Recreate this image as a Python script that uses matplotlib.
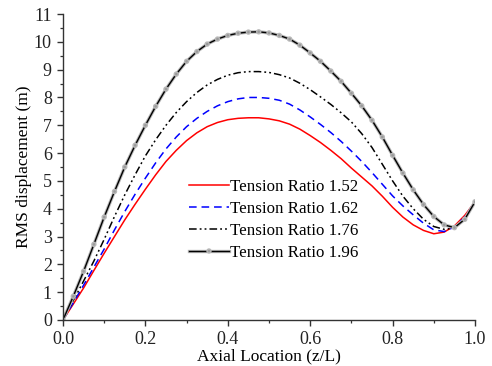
import matplotlib
matplotlib.use("Agg")
import matplotlib.pyplot as plt
import matplotlib.patheffects as pe
from matplotlib.ticker import MultipleLocator, FormatStrFormatter

plt.rcParams['font.family'] = ['Liberation Serif', 'DejaVu Serif']

# Axial location along the riser (z/L)
z = [0.0, 0.025, 0.05, 0.075, 0.10, 0.125, 0.15, 0.175, 0.20, 0.225,
     0.25, 0.275, 0.30, 0.325, 0.35, 0.375, 0.40, 0.425, 0.45, 0.475,
     0.50, 0.525, 0.55, 0.575, 0.60, 0.625, 0.65, 0.675, 0.70, 0.725,
     0.75, 0.775, 0.80, 0.825, 0.85, 0.875, 0.90, 0.925, 0.95, 0.975, 1.0]

# RMS displacement (m) for each tension ratio
rms_152 = [0.0, 0.57, 1.15, 1.78, 2.40, 3.00, 3.60, 4.16, 4.70, 5.22,
           5.70, 6.10, 6.45, 6.73, 6.95, 7.10, 7.20, 7.25, 7.27, 7.27,
           7.23, 7.16, 7.04, 6.86, 6.63, 6.38, 6.10, 5.80, 5.46, 5.14,
           4.82, 4.45, 4.05, 3.70, 3.42, 3.22, 3.10, 3.16, 3.38, 3.76, 4.25]
rms_162 = [0.0, 0.62, 1.25, 1.90, 2.55, 3.24, 3.90, 4.52, 5.10, 5.65,
           6.15, 6.58, 6.95, 7.25, 7.50, 7.70, 7.85, 7.95, 8.00, 8.00,
           7.97, 7.90, 7.76, 7.55, 7.30, 7.03, 6.74, 6.42, 6.07, 5.70,
           5.30, 4.88, 4.46, 4.10, 3.78, 3.48, 3.24, 3.18, 3.34, 3.70, 4.25]
rms_176 = [0.0, 0.70, 1.40, 2.12, 2.90, 3.72, 4.50, 5.22, 5.90, 6.48,
           7.00, 7.46, 7.85, 8.18, 8.45, 8.65, 8.80, 8.89, 8.93, 8.93,
           8.90, 8.82, 8.70, 8.51, 8.28, 8.02, 7.75, 7.45, 7.12, 6.70,
           6.20, 5.60, 5.00, 4.45, 4.00, 3.62, 3.36, 3.26, 3.30, 3.64, 4.25]
rms_196 = [0.0, 0.85, 1.75, 2.72, 3.70, 4.62, 5.50, 6.28, 7.00, 7.68,
           8.30, 8.84, 9.30, 9.65, 9.92, 10.10, 10.23, 10.31, 10.35, 10.36,
           10.32, 10.23, 10.10, 9.88, 9.60, 9.30, 8.95, 8.58, 8.15, 7.70,
           7.18, 6.58, 5.92, 5.28, 4.68, 4.15, 3.72, 3.42, 3.32, 3.62, 4.25]

labels = ['Tension Ratio 1.52', 'Tension Ratio 1.62',
          'Tension Ratio 1.76', 'Tension Ratio 1.96']

fig = plt.figure(figsize=(4.92, 3.66), dpi=100)
ax = fig.add_axes([0.128, 0.1257, 0.8375, 0.836])

ax.plot(z, rms_152, color='#ff0000', lw=1.1, label=labels[0])
ax.plot(z, rms_162, color='#0000ff', lw=1.1, dashes=(5, 3.2), label=labels[1])
ax.plot(z, rms_176, color='black', lw=1.1,
        dashes=(5, 2, 1.2, 2, 1.2, 2), label=labels[2])
ax.plot(z, rms_196, color='black', lw=1.0, marker='o', ms=1.5,
        mfc='#9a9a9a', mec='#9a9a9a', mew=0.3, label=labels[3],
        path_effects=[pe.Stroke(linewidth=2.4, foreground='#b8b8b8'),
                      pe.Normal()])

ax.set_xlim(0, 1.0)
ax.set_ylim(0, 11)
ax.xaxis.set_major_locator(MultipleLocator(0.2))
ax.xaxis.set_minor_locator(MultipleLocator(0.1))
ax.yaxis.set_major_locator(MultipleLocator(1))
ax.yaxis.set_minor_locator(MultipleLocator(0.5))
ax.xaxis.set_major_formatter(FormatStrFormatter('%.1f'))

for side in ('top', 'right'):
    ax.spines[side].set_visible(False)
for side in ('left', 'bottom'):
    ax.spines[side].set_linewidth(1.0)
    ax.spines[side].set_color('#333333')

ax.tick_params(which='major', direction='out', length=4.5, width=1.0,
               labelsize=13, colors='#333333', labelcolor='#222222')
ax.tick_params(which='minor', direction='out', length=2.5, width=0.9,
               colors='#333333')

ax.set_xlabel('Axial Location (z/L)', fontsize=12.5, labelpad=0)
ax.set_ylabel('RMS displacement (m)', fontsize=12.5, labelpad=1)

ax.legend(loc='upper left', bbox_to_anchor=(0.305, 0.462), frameon=False,
          fontsize=12.2, handlelength=2.4, handletextpad=0.05,
          labelspacing=0.36, borderpad=0, borderaxespad=0)

fig.savefig('out.png', dpi=100)
